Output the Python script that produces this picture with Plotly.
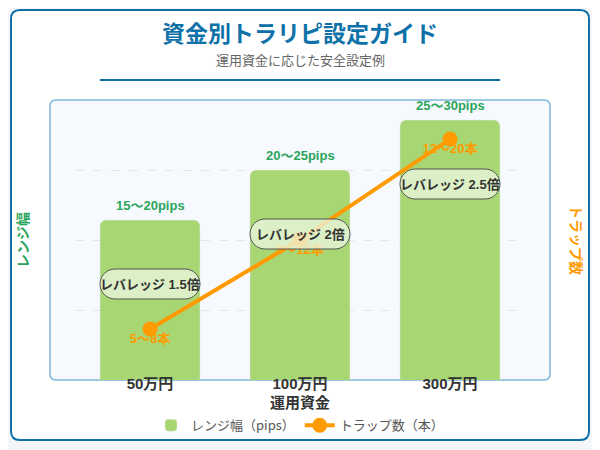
import plotly.graph_objects as go

# data
capital = ['50万円', '100万円', '300万円']
range_pips = [20, 25, 30]
range_labels = ['15〜20pips', '20〜25pips', '25〜30pips']
trap_count = [6.5, 10.5, 15]
trap_labels = ['5〜8本', '9〜12本', '12〜20本']
leverage_labels = ['レバレッジ 1.5倍', 'レバレッジ 2倍', 'レバレッジ 2.5倍']

FONT = 'Liberation Sans, Noto Sans CJK JP'
JP = 'Noto Sans CJK JP'
BLUE = '#0e71a8'
GREEN_BAR = '#a8d672'
GREEN_TXT = '#2aa55a'
ORANGE = '#ff9a00'

PLOT_H = 280
Y2_RANGE = [4.22, 16.75]


def pill(w, h, dy):
    # rounded box path in pixels around an anchor
    r = h / 2
    x0, x1 = -w / 2 + r, w / 2 - r
    y0, y1 = dy - r, dy + r
    k = r * 0.55
    return (f'M {x0},{y1} L {x1},{y1} '
            f'C {x1 + k},{y1} {x1 + r},{dy + k} {x1 + r},{dy} '
            f'C {x1 + r},{dy - k} {x1 + k},{y0} {x1},{y0} '
            f'L {x0},{y0} '
            f'C {x0 - k},{y0} {x0 - r},{dy - k} {x0 - r},{dy} '
            f'C {x0 - r},{dy + k} {x0 - k},{y1} {x0},{y1} Z')


def round_rect(x0, y0, x1, y1, r):
    return (f'M {x0 + r},{y1} L {x1 - r},{y1} Q {x1},{y1} {x1},{y1 - r} '
            f'L {x1},{y0 + r} Q {x1},{y0} {x1 - r},{y0} '
            f'L {x0 + r},{y0} Q {x0},{y0} {x0},{y0 + r} '
            f'L {x0},{y1 - r} Q {x0},{y1} {x0 + r},{y1} Z')


fig = go.Figure()

fig.add_trace(go.Bar(
    x=capital, y=range_pips, name='レンジ幅（pips）',
    marker=dict(color=GREEN_BAR, cornerradius=6),
    width=0.667, yaxis='y',
))

fig.add_trace(go.Scatter(
    x=capital, y=trap_count, name='トラップ数（本）',
    mode='lines+markers', yaxis='y2',
    line=dict(color=ORANGE, width=4),
    marker=dict(color=ORANGE, size=15),
    cliponaxis=False,
))

# labels sit ~11px under each point
units_per_px = (Y2_RANGE[1] - Y2_RANGE[0]) / PLOT_H
fig.add_trace(go.Scatter(
    x=capital, y=[v - 11 * units_per_px for v in trap_count], mode='text', yaxis='y2',
    text=trap_labels, textposition='middle center',
    textfont=dict(family=FONT, size=13, color=ORANGE, weight='bold'),
    showlegend=False, hoverinfo='skip', cliponaxis=False,
))

shapes = [
    # card
    dict(type='path', xref='paper', yref='paper', xsizemode='pixel', ysizemode='pixel',
         xanchor=0.5, yanchor=0.5, layer='below',
         path=round_rect(-289, -200, 289, 230, 9),
         fillcolor='white', line=dict(color=BLUE, width=2)),
    # chart box
    dict(type='path', xref='paper', yref='paper', xsizemode='pixel', ysizemode='pixel',
         xanchor=0.5, yanchor=0.5, layer='below',
         path=round_rect(-250, -140, 250, 140, 6),
         fillcolor='#f6faff', line=dict(color='#7db9d8', width=1.5)),
    # rule under subtitle
    dict(type='line', xref='paper', yref='paper', xsizemode='pixel', ysizemode='pixel',
         xanchor=0.5, yanchor=0.5, x0=-200, x1=200, y0=160, y1=160,
         line=dict(color=BLUE, width=2)),
]

annotations = [
    dict(text='資金別トラリピ設定ガイド', xref='paper', yref='paper', x=0.5, y=1, yshift=68,
         yanchor='middle', showarrow=False,
         font=dict(family=JP, size=23, color=BLUE, weight='bold')),
    dict(text='運用資金に応じた安全設定例', xref='paper', yref='paper', x=0.5, y=1, yshift=41,
         yanchor='middle', showarrow=False, font=dict(family=JP, size=13, color='#666666')),
    dict(text='レンジ幅', xref='paper', yref='paper', x=0, y=0.5, xshift=-53,
         xanchor='center', yanchor='middle', textangle=-90, showarrow=False,
         font=dict(family=JP, size=14, color=GREEN_TXT, weight='bold')),
    dict(text='トラップ数', xref='paper', yref='paper', x=1, y=0.5, xshift=52,
         xanchor='center', yanchor='middle', textangle=90, showarrow=False,
         font=dict(family=JP, size=14, color=ORANGE, weight='bold')),
    dict(text='運用資金', xref='paper', yref='paper', x=0.5, y=0, yshift=-21,
         yanchor='middle', showarrow=False,
         font=dict(family=JP, size=15, color='#333333', weight='bold')),
]

for cat, val, lab, lev in zip(capital, range_pips, range_labels, leverage_labels):
    annotations.append(dict(
        text=lab, x=cat, y=val, yref='y', yshift=15, yanchor='middle', showarrow=False,
        font=dict(family=FONT, size=13, color=GREEN_TXT, weight='bold')))
    annotations.append(dict(
        text=lev, x=cat, y=val, yref='y', yshift=-64, yanchor='middle', showarrow=False,
        font=dict(family=FONT, size=13, color='#333333', weight='bold')))
    shapes.append(dict(
        type='path', xref='x', yref='y', xsizemode='pixel', ysizemode='pixel',
        xanchor=cat, yanchor=val, layer='above', path=pill(100, 30, -64),
        fillcolor='rgba(238,247,228,0.75)', line=dict(color='#555555', width=1)))

# the page body adds an 8px offset, so margins are shifted to compensate
fig.update_layout(
    width=600, height=450,
    margin=dict(l=67, r=83, t=92, b=78),
    paper_bgcolor='#f4f6f9', plot_bgcolor='rgba(0,0,0,0)',
    font=dict(family=FONT, color='#333333'),
    bargap=0.333,
    showlegend=True,
    legend=dict(orientation='h', x=0.5, xanchor='center', y=-0.108, yanchor='top',
                font=dict(family=JP, size=13, color='#555555'),
                bgcolor='rgba(0,0,0,0)'),
    xaxis=dict(showgrid=False, zeroline=False, showline=False, ticks='',
               ticklabelstandoff=-7,
               tickfont=dict(family=FONT, size=15, color='#333333', weight='bold')),
    yaxis=dict(range=[4, 32], tick0=4, dtick=7, showticklabels=False, zeroline=False,
               showgrid=True, gridcolor='#e2e6ec', griddash='dash', gridwidth=1),
    yaxis2=dict(range=Y2_RANGE, overlaying='y', side='right', showgrid=False,
                showticklabels=False, zeroline=False),
    shapes=shapes,
    annotations=annotations,
)

fig.write_html('out.html')
